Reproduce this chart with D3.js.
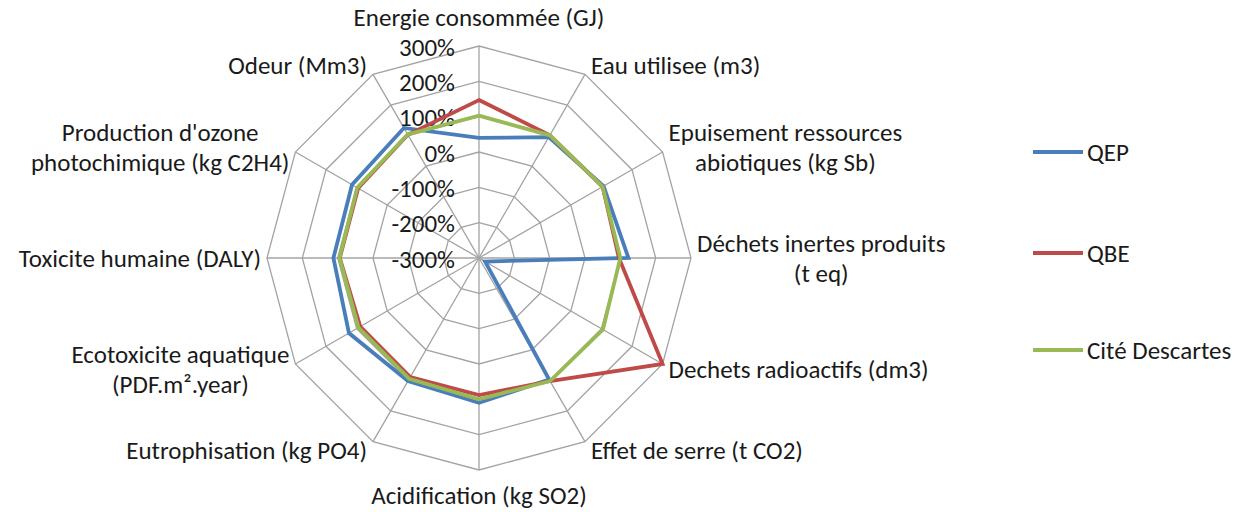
<!DOCTYPE html>
<html><head><meta charset="utf-8">
<script src="https://cdn.jsdelivr.net/npm/d3@7"></script>
<style>
html,body{margin:0;padding:0;background:#fff;}
svg text{font-family:Carlito,Calibri,Lato,sans-serif;fill:#1a1a1a;}
</style></head>
<body><svg id="c" width="1245" height="512"></svg>
<script>
const categories = [
  "Energie consommée (GJ)",
  "Eau utilisee (m3)",
  "Epuisement ressources\nabiotiques (kg Sb)",
  "Déchets inertes produits\n(t eq)",
  "Dechets radioactifs (dm3)",
  "Effet de serre (t CO2)",
  "Acidification (kg SO2)",
  "Eutrophisation (kg PO4)",
  "Ecotoxicite aquatique\n(PDF.m².year)",
  "Toxicite humaine (DALY)",
  "Production d'ozone\nphotochimique (kg C2H4)",
  "Odeur (Mm3)"
];
const seriesNames = ["QEP", "QBE", "Cité Descartes"];
const qep   = [40, 95, 107, 123, -280, 97, 110, 102, 125, 112, 115, 125];
const qbe   = [147, 101, 104, 96, 300, 102, 88, 89, 88, 94, 95, 103];
const cite  = [103, 101, 104, 100, 105, 102, 100, 95, 94, 95, 98, 104];
const tickValues = [-300, -200, -100, 0, 100, 200, 300];
const tickLabels = ["-300%", "-200%", "-100%", "0%", "100%", "200%", "300%"];
const colors = ["#4A7EBB", "#BE4B48", "#98B954"];

const svg = d3.select("#c");
const cx = 479, cy = 258, R = 212;
const FS = 25;
const rScale = d3.scaleLinear().domain([-300, 300]).range([0, R]);
const n = categories.length;
const aScale = d3.scaleLinear().domain([0, n]).range([0, 2 * Math.PI]);
const g = svg.append("g").attr("transform", `translate(${cx},${cy})`);

const pt = (i, r) => [r * Math.sin(aScale(i)), -r * Math.cos(aScale(i))];

// grid rings
const gridG = g.append("g");
tickValues.slice(1).forEach(v => {
  const pts = d3.range(n).map(i => pt(i, rScale(v)));
  gridG.append("polygon").attr("points", pts.map(p => p.join(",")).join(" "))
    .attr("fill", "none").attr("stroke", "#A3A3A3").attr("stroke-width", 1.3);
});
d3.range(n).forEach(i => {
  const p = pt(i, R);
  gridG.append("line").attr("x1", 0).attr("y1", 0).attr("x2", p[0]).attr("y2", p[1])
    .attr("stroke", "#A3A3A3").attr("stroke-width", 1.3);
});

// tick labels
g.append("g").selectAll("text").data(tickValues).join("text")
  .attr("x", -24).attr("y", d => -rScale(d)).attr("dy", "0.38em")
  .attr("text-anchor", "end").attr("font-size", 25)
  .text((d, i) => tickLabels[i]);

// series
const line = d3.lineRadial()
  .angle((d, i) => aScale(i))
  .radius(d => rScale(d))
  .curve(d3.curveLinearClosed);
[qep, qbe, cite].forEach((s, k) => {
  g.append("path").attr("d", line(s)).attr("fill", "none")
    .attr("stroke", colors[k]).attr("stroke-width", 3.8).attr("stroke-linejoin", "miter");
});

// category labels
const LH = 30;
categories.forEach((c, i) => {
  const lines = c.split("\n");
  const th = aScale(i);
  const s = Math.sin(th), co = Math.cos(th);
  const t = g.append("text").attr("font-size", FS).attr("text-anchor", "middle");
  lines.forEach((l, j) => t.append("tspan").attr("x", 0).attr("y", (j - (lines.length - 1) / 2) * LH).attr("dy", "0.35em").text(l));
  const w = t.node().getBBox().width;
  const o = pt(i, R);
  let x, y;
  if (Math.abs(s) < 0.01) {
    x = o[0];
    y = o[1] - co * (co > 0 ? 29 : 25);
  } else {
    x = o[0] + Math.sign(s) * (6 + w / 2);
    y = o[1] - co * 10;
  }
  t.attr("transform", `translate(${x},${y})`);
});

// legend
const lg = svg.append("g");
const legendY = [152, 253, 350];
seriesNames.forEach((nm, k) => {
  lg.append("line").attr("x1", 1033).attr("x2", 1083).attr("y1", legendY[k]).attr("y2", legendY[k])
    .attr("stroke", colors[k]).attr("stroke-width", 3.8);
  lg.append("text").attr("x", 1087).attr("y", legendY[k]).attr("dy", "0.35em")
    .attr("font-size", FS).text(nm);
});
</script></body></html>
